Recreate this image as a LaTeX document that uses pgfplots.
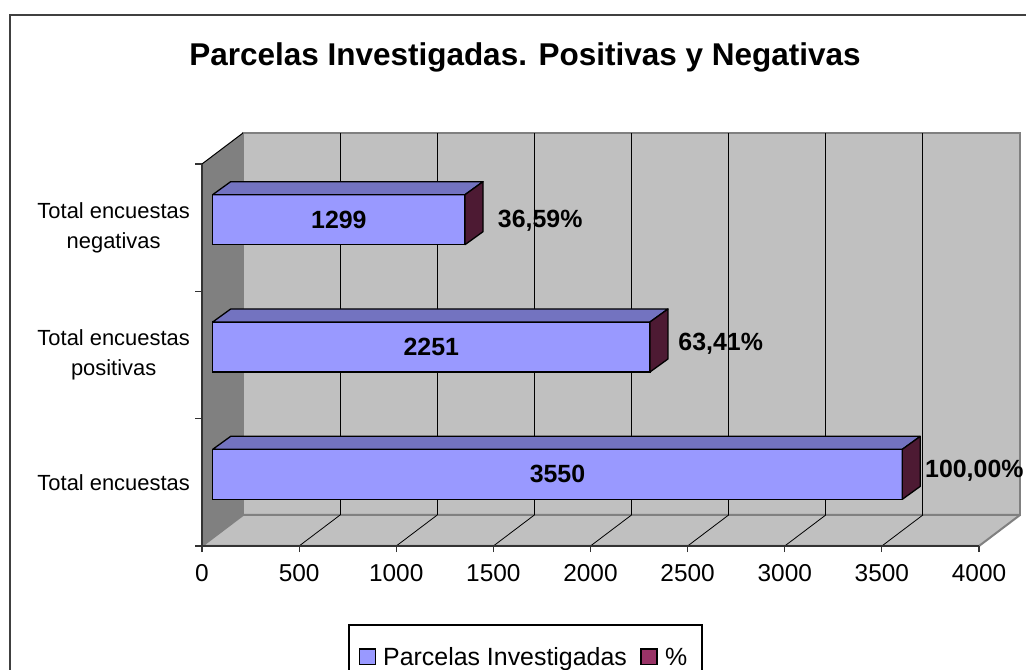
\documentclass[border=0pt]{standalone}
\usepackage{pgfplots}
\pgfplotsset{compat=1.18}
\usepackage{fontspec}
\setmainfont{Liberation Sans}
\definecolor{barblue}{HTML}{9999FF}
\definecolor{bartop}{HTML}{7373C0}
\definecolor{barside}{HTML}{4D1A33}
\definecolor{pctred}{HTML}{993366}
\definecolor{wall}{HTML}{C0C0C0}
\definecolor{sidewall}{HTML}{808080}
\definecolor{edgegray}{HTML}{808080}
% 3D faces of a bar: #1 value, #2 category
\newcommand{\barfaces}[2]{%
  \filldraw[fill=bartop,draw=black,line width=1.3bp,line join=round]
    ([shift={(10.7bp,33bp)}]axis cs:0,#2) -- ([shift={(10.7bp,33bp)}]axis cs:#1,#2)
    -- ([shift={(28.7bp,46bp)}]axis cs:#1,#2) -- ([shift={(28.7bp,46bp)}]axis cs:0,#2) -- cycle;
  \filldraw[fill=barside,draw=black,line width=1.3bp,line join=round]
    ([shift={(10.7bp,33bp)}]axis cs:#1,#2) -- ([shift={(10.7bp,-17bp)}]axis cs:#1,#2)
    -- ([shift={(28.7bp,-4bp)}]axis cs:#1,#2) -- ([shift={(28.7bp,46bp)}]axis cs:#1,#2) -- cycle;
}
\begin{document}
\begin{tikzpicture}
\clip (0,0) rectangle (1026bp,670bp);
\fill[white] (0,0) rectangle (1026bp,670bp);
\draw[black!75,line width=1.5bp] (10bp,655bp) rectangle (1040bp,-20bp);
\node[anchor=base,inner sep=0pt,font=\fontsize{31.6}{36}\selectfont\bfseries] at (525bp,604bp)
  {Parcelas Investigadas. Positivas y Negativas};
\begin{axis}[
  at={(202bp,124bp)}, anchor=south west,
  scale only axis, width=777bp, height=382bp,
  xmin=0, xmax=4000, ymin=-0.5, ymax=2.5,
  clip=false, axis on top,
  axis x line*=bottom, axis y line*=left,
  axis line style={-,black!80,line width=1.8bp},
  xtick={0,500,...,4000},
  xticklabels={0,500,1000,1500,2000,2500,3000,3500,4000},
  ytick={0,1,2},
  yticklabels={Total encuestas,{Total encuestas\\positivas},{Total encuestas\\negativas}},
  minor ytick={-0.5,0.5,1.5,2.5},
  tick align=outside,
  major tick length=6bp, minor tick length=7bp,
  every major y tick/.append style={draw=none},
  tick style={black!80,line width=1.2bp},
  xticklabel style={font=\fontsize{24.5}{28}\selectfont,inner sep=0pt,anchor=north,yshift=-12bp},
  yticklabel style={font=\fontsize{22}{30}\selectfont,align=center,inner sep=0pt,anchor=east,xshift=-6bp},
]
% back wall
\filldraw[fill=wall,draw=edgegray,line width=2bp]
  ([shift={(41bp,31bp)}]axis cs:0,-0.5) rectangle ([shift={(41bp,31bp)}]axis cs:4000,2.5);
% floor
\filldraw[fill=wall,draw=edgegray,line width=2bp,line join=round]
  (axis cs:0,-0.5) -- (axis cs:4000,-0.5) -- ([shift={(41bp,31bp)}]axis cs:4000,-0.5)
  -- ([shift={(41bp,31bp)}]axis cs:0,-0.5) -- cycle;
% side wall
\fill[sidewall]
  (axis cs:0,-0.5) -- (axis cs:0,2.5) -- ([shift={(41bp,31bp)}]axis cs:0,2.5)
  -- ([shift={(41bp,31bp)}]axis cs:0,-0.5) -- cycle;
\draw[black,line width=1bp] (axis cs:0,2.5) -- ([shift={(41bp,31bp)}]axis cs:0,2.5);
% grid lines on back wall and floor
\pgfplotsinvokeforeach{500,1000,1500,2000,2500,3000,3500}{
  \draw[black,line width=1bp] ([shift={(41bp,31bp)}]axis cs:#1,-0.5) -- ([shift={(41bp,31bp)}]axis cs:#1,2.5);
  \draw[black,line width=0.8bp] (axis cs:#1,-0.5) -- ([shift={(41bp,31bp)}]axis cs:#1,-0.5);
}
% bars (front faces)
\addplot[xbar, bar width=50bp, xshift=10.7bp, yshift=8bp,
  fill=barblue, draw=black, line width=1.3bp]
  coordinates {(3550,0) (2251,1) (1299,2)};
\barfaces{3550}{0}
\barfaces{2251}{1}
\barfaces{1299}{2}
% value labels
\begin{scope}[every node/.style={inner sep=0pt,font=\fontsize{25}{28}\selectfont\bfseries}]
\node[anchor=center] at ([shift={(10.7bp,8bp)}]axis cs:1775,0) {3550};
\node[anchor=center] at ([shift={(10.7bp,8bp)}]axis cs:1125.5,1) {2251};
\node[anchor=center] at ([shift={(10.7bp,8bp)}]axis cs:649.5,2) {1299};
\node[anchor=base west] at ([shift={(33.4bp,4.7bp)}]axis cs:3550,0) {100,00\%};
\node[anchor=base west] at ([shift={(39bp,4bp)}]axis cs:2251,1) {63,41\%};
\node[anchor=base west] at ([shift={(43.4bp,0bp)}]axis cs:1299,2) {36,59\%};
\end{scope}
\end{axis}
% legend
\draw[black,line width=1.2bp] (349bp,45bp) rectangle (702bp,-20bp);
\filldraw[fill=barblue,draw=black,line width=1.2bp] (359.5bp,5.5bp) rectangle (375.5bp,21bp);
\node[anchor=base west,inner sep=0pt,font=\fontsize{25}{30}\selectfont] at (383bp,5bp) {Parcelas Investigadas};
\filldraw[fill=pctred,draw=black,line width=1.2bp] (641bp,5.5bp) rectangle (657bp,21bp);
\node[anchor=base west,inner sep=0pt,font=\fontsize{25}{30}\selectfont] at (665bp,5bp) {\%};
\end{tikzpicture}
\end{document}
